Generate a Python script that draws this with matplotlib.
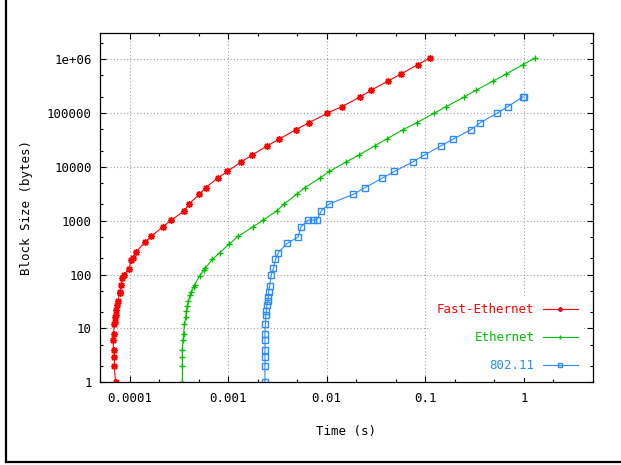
import numpy as np
import matplotlib
matplotlib.use("Agg")
import matplotlib.pyplot as plt
from matplotlib.lines import Line2D
from matplotlib.ticker import LogLocator, FuncFormatter, NullFormatter

plt.rcParams["font.family"] = ["DejaVu Sans Mono"]
plt.rcParams["font.size"] = 9

# transfer time (s) per block size (bytes)
fast_eth_time = [7.2e-5, 6.98e-5, 6.98e-5, 6.88e-5, 6.75e-5, 6.88e-5, 6.98e-5, 7.1e-5,
                 7.1e-5, 7.2e-5, 7.3e-5, 7.4e-5, 7.6e-5, 7.9e-5, 8.0e-5, 8.2e-5,
                 8.4e-5, 8.7e-5, 9.8e-5, 1.04e-4, 1.08e-4, 1.17e-4, 1.42e-4, 1.66e-4,
                 2.16e-4, 2.65e-4, 3.6e-4, 4.0e-4, 5.1e-4, 5.9e-4, 7.8e-4, 9.8e-4,
                 1.35e-3, 1.74e-3, 2.5e-3, 3.3e-3, 4.9e-3, 6.6e-3, 0.0101, 0.0143,
                 0.0217, 0.0281, 0.0422, 0.0564, 0.084, 0.112]
fast_eth_size = [1, 2, 3, 4, 6, 8, 12, 13,
                 16, 18, 22, 27, 32, 45, 48, 63,
                 85, 100, 126, 185, 200, 265, 394, 512,
                 768, 1024, 1536, 2048, 3072, 4096, 6144, 8192,
                 12288, 16384, 24576, 32768, 49152, 65536, 98304, 131072,
                 196608, 262144, 393216, 524288, 786432, 1048576]

eth_time = [3.43e-4, 3.43e-4, 3.43e-4, 3.43e-4, 3.48e-4, 3.53e-4, 3.6e-4, 3.71e-4,
            3.77e-4, 3.86e-4, 3.95e-4, 4.14e-4, 4.24e-4, 4.47e-4, 4.58e-4, 5.14e-4,
            5.64e-4, 5.83e-4, 6.9e-4, 8.2e-4, 1.02e-3, 1.26e-3, 1.79e-3, 2.26e-3,
            3.14e-3, 3.7e-3, 4.94e-3, 6.0e-3, 8.5e-3, 0.0106, 0.0157, 0.0211,
            0.0309, 0.0406, 0.06, 0.0819, 0.123, 0.163, 0.248, 0.326,
            0.492, 0.658, 0.978, 1.31]
eth_size = [1, 2, 3, 4, 6, 8, 12, 16,
            21, 26, 32, 42, 48, 59, 65, 95,
            121, 130, 191, 253, 366, 512, 768, 1024,
            1536, 2048, 3072, 4096, 6144, 8192, 12288, 16384,
            24576, 32768, 49152, 65536, 98304, 131072, 196608, 262144,
            393216, 524288, 786432, 1048576]

wifi_time = [2.36e-3, 2.36e-3, 2.36e-3, 2.36e-3, 2.36e-3, 2.36e-3, 2.39e-3, 2.41e-3,
             2.44e-3, 2.47e-3, 2.53e-3, 2.56e-3, 2.58e-3, 2.63e-3, 2.73e-3, 2.88e-3,
             3.02e-3, 3.22e-3, 3.96e-3, 5.13e-3, 5.47e-3, 6.48e-3, 7.3e-3, 7.9e-3,
             8.85e-3, 0.0106, 0.0186, 0.0244, 0.0366, 0.0485, 0.0746, 0.0973,
             0.145, 0.193, 0.292, 0.36, 0.533, 0.69, 0.97, 1.01]
wifi_size = [1, 2, 3, 4, 6, 8, 12, 18,
             21, 27, 32, 39, 48, 61, 97, 130,
             191, 256, 377, 500, 768, 1024, 1024, 1024,
             1536, 2048, 3072, 4096, 6144, 8192, 12288, 16384,
             24576, 32768, 49152, 65536, 98304, 131072, 196608, 196608]

series_labels = ["Fast-Ethernet", "Ethernet", "802.11"]
series_colors = ["#ff0000", "#00c000", "#2a8cff"]


def log_label(value, pos):
    return "%g" % value


fig = plt.figure(figsize=(6.21, 4.65), dpi=100)
ax = fig.add_axes([0.161, 0.1778, 0.7934, 0.7506])

ax.plot(fast_eth_time, fast_eth_size, color=series_colors[0], linewidth=0.8,
        marker=(8, 2, 0), markersize=5, markeredgewidth=1.0, label=series_labels[0])
ax.plot(eth_time, eth_size, color=series_colors[1], linewidth=0.8,
        marker="+", markersize=5, markeredgewidth=1.0, label=series_labels[1])
ax.plot(wifi_time, wifi_size, color=series_colors[2], linewidth=0.8,
        marker="s", markersize=4, markerfacecolor="none", markeredgewidth=1.0,
        label=series_labels[2])

ax.set_xscale("log")
ax.set_yscale("log")
ax.set_xlim(5e-5, 5)
ax.set_ylim(1, 3e6)

for axis in (ax.xaxis, ax.yaxis):
    axis.set_major_locator(LogLocator(base=10, numticks=20))
    axis.set_minor_locator(LogLocator(base=10, subs=(2.0, 5.0), numticks=20))
    axis.set_major_formatter(FuncFormatter(log_label))
    axis.set_minor_formatter(NullFormatter())

ax.tick_params(which="both", direction="in", top=True, right=True, width=0.8)
ax.tick_params(which="major", length=4)
ax.tick_params(which="minor", length=2.2)
ax.tick_params(axis="x", pad=7)
ax.tick_params(axis="y", pad=6)

ax.set_axisbelow(True)
ax.grid(True, which="major", color="#a0a0a0", linestyle=(0, (1, 2)), linewidth=0.8)
for spine in ax.spines.values():
    spine.set_linewidth(0.9)

ax.set_xlabel("Time (s)", va="center")
ax.xaxis.set_label_coords(0.5, -0.1415)
ax.set_ylabel("Block Size (bytes)", va="center")
ax.yaxis.set_label_coords(-0.150, 0.5)

leg = ax.legend(loc="lower right", bbox_to_anchor=(1.0, -0.014), markerfirst=False,
                frameon=True, fancybox=False, edgecolor="none", facecolor="white",
                framealpha=1.0, handlelength=2.8, handletextpad=0.65,
                labelspacing=1.2, borderpad=0.5, borderaxespad=0.7,
                labelcolor="linecolor", numpoints=1)
for handle in leg.legend_handles:
    handle.set_markersize(3)

# page border on the left and bottom edges
fig.add_artist(Line2D([6 / 621, 6 / 621], [3 / 465, 1.0],
                      transform=fig.transFigure, color="black", linewidth=1.6))
fig.add_artist(Line2D([6 / 621, 1.0], [3 / 465, 3 / 465],
                      transform=fig.transFigure, color="black", linewidth=1.6))

fig.savefig("out.png", dpi=100)
